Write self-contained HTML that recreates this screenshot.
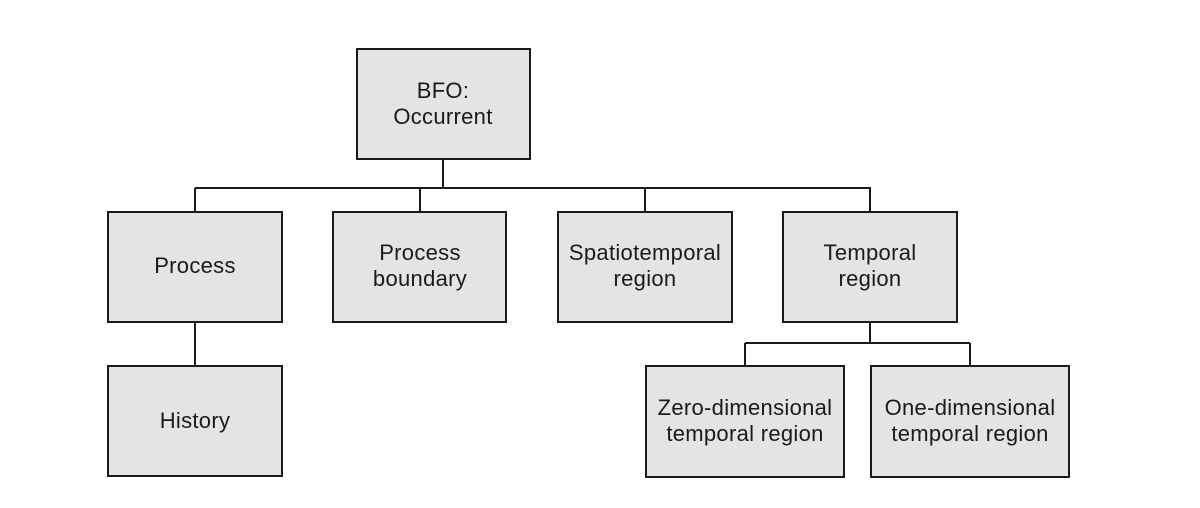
<!DOCTYPE html>
<html><head><meta charset="utf-8"><style>
body{margin:0;background:#fff;width:1200px;height:508px;overflow:hidden;}
svg{display:block}
text{font-family:"Liberation Sans",sans-serif;font-size:22px;letter-spacing:0.3px;fill:#1a1a1a;text-anchor:middle}
rect{fill:#e5e3e3;stroke:#1a1a1a;stroke-width:2}
line{stroke:#1a1a1a;stroke-width:2}
</style></head><body>
<svg width="1200" height="508" viewBox="0 0 1200 508">
<line x1="443" y1="159" x2="443" y2="188"/>
<line x1="195" y1="188" x2="871" y2="188"/>
<line x1="195" y1="188" x2="195" y2="212"/>
<line x1="420" y1="188" x2="420" y2="212"/>
<line x1="645" y1="188" x2="645" y2="212"/>
<line x1="870" y1="188" x2="870" y2="212"/>
<line x1="195" y1="322" x2="195" y2="366"/>
<line x1="870" y1="322" x2="870" y2="343"/>
<line x1="745" y1="343" x2="970" y2="343"/>
<line x1="745" y1="343" x2="745" y2="366"/>
<line x1="970" y1="343" x2="970" y2="366"/>

<rect x="357" y="49" width="173" height="110"/>
<text x="443" y="98">BFO:</text><text x="443" y="124">Occurrent</text>

<rect x="108" y="212" width="174" height="110"/>
<text x="195" y="273">Process</text>
<rect x="333" y="212" width="173" height="110"/>
<text x="420" y="260">Process</text><text x="420" y="286">boundary</text>
<rect x="558" y="212" width="174" height="110"/>
<text x="645" y="260">Spatiotemporal</text><text x="645" y="286">region</text>
<rect x="783" y="212" width="174" height="110"/>
<text x="870" y="260">Temporal</text><text x="870" y="286">region</text>

<rect x="108" y="366" width="174" height="110"/>
<text x="195" y="428">History</text>
<rect x="646" y="366" width="198" height="111"/>
<text x="745" y="415">Zero-dimensional</text><text x="745" y="441">temporal region</text>
<rect x="871" y="366" width="198" height="111"/>
<text x="970" y="415">One-dimensional</text><text x="970" y="441">temporal region</text>
</svg>
</body></html>
